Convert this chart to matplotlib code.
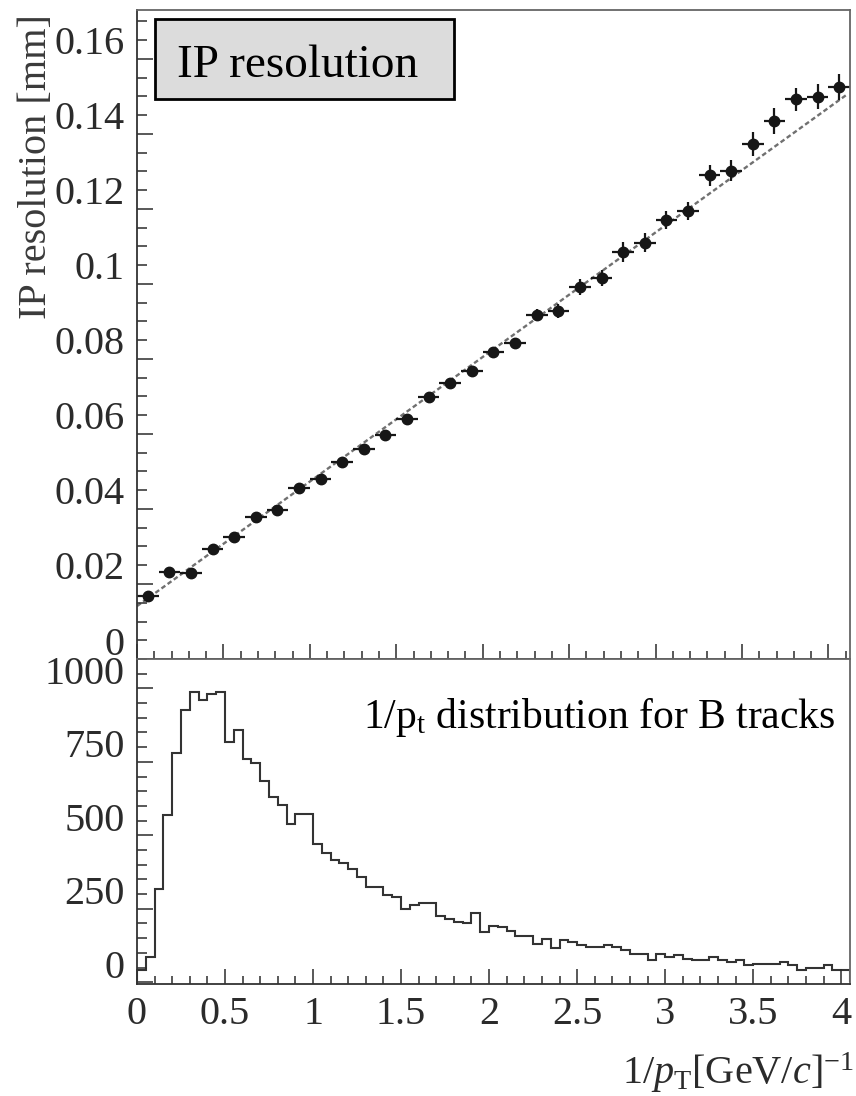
import matplotlib
matplotlib.use("Agg")
import matplotlib.pyplot as plt
import matplotlib.transforms as mtransforms
from matplotlib.patches import Rectangle
from matplotlib.ticker import MultipleLocator, FuncFormatter
import numpy as np

# IP resolution vs 1/pT, 33 bins of 0.125 (GeV/c)^-1
ip_bin_width = 0.125
ip_res = [0.0169, 0.0232, 0.0228, 0.0292, 0.0325, 0.0379, 0.0398, 0.0456, 0.0479, 0.0525,
          0.0559, 0.0596, 0.0639, 0.0698, 0.0736, 0.0769, 0.0818, 0.0842, 0.0917, 0.0927,
          0.0992, 0.1015, 0.1085, 0.1110, 0.1170, 0.1194, 0.1289, 0.1302, 0.1372, 0.1434,
          0.1492, 0.1499, 0.1525]
ip_err = [0.0006, 0.0006, 0.0007, 0.0007, 0.0008, 0.0008, 0.0009, 0.0009, 0.0010, 0.0010,
          0.0011, 0.0011, 0.0012, 0.0012, 0.0013, 0.0013, 0.0014, 0.0015, 0.0017, 0.0018,
          0.0021, 0.0021, 0.0026, 0.0025, 0.0023, 0.0025, 0.0029, 0.0028, 0.0032, 0.0035,
          0.0031, 0.0033, 0.0035]
fit_intercept = 0.0141
fit_slope = 0.0332

# 1/pt distribution for B tracks, 81 bins of 0.05
hist_bin_width = 0.05
hist_counts = [40, 85, 318, 568, 780, 926, 988, 960, 982, 988,
               816, 858, 761, 746, 684, 630, 602, 537, 574, 574,
               471, 440, 416, 405, 386, 358, 325, 325, 296, 289,
               250, 264, 269, 269, 224, 216, 205, 202, 234, 170,
               192, 187, 174, 156, 156, 131, 148, 117, 144, 136,
               125, 119, 119, 125, 119, 110, 97, 97, 76, 97,
               85, 91, 80, 74, 74, 85, 77, 68, 74, 57,
               63, 63, 63, 68, 60, 40, 49, 49, 57, 40,
               40]

plt.rcParams['font.family'] = ['Liberation Serif', 'DejaVu Serif']
plt.rcParams['mathtext.fontset'] = 'custom'
plt.rcParams['mathtext.rm'] = 'Liberation Serif'
plt.rcParams['mathtext.it'] = 'Liberation Serif:italic'

INK = '#2b2b2b'

fig = plt.figure(figsize=(8.56, 10.96), dpi=100)
ax1 = fig.add_axes([0.160, 0.3987, 0.833, 0.5922])
ax2 = fig.add_axes([0.160, 0.1022, 0.833, 0.2965])

# top panel: resolution points and linear fit
x_centres = (np.arange(len(ip_res)) + 0.5) * ip_bin_width
fit_x = np.array([0.0, 4.105])
ax1.plot(fit_x, fit_intercept + fit_slope * fit_x, color='#707070', lw=1.7,
         dashes=(2.0, 1.2), zorder=1)
ax1.errorbar(x_centres, ip_res, xerr=ip_bin_width / 2, yerr=ip_err, fmt='o',
             color='#161616', ms=7.5, elinewidth=1.6, capsize=0, zorder=2)
ax1.set_xlim(0, 4.125)
ax1.set_ylim(0, 0.173)
ax1.yaxis.set_major_locator(MultipleLocator(0.02))
ax1.yaxis.set_minor_locator(MultipleLocator(0.005))
ax1.yaxis.set_major_formatter(FuncFormatter(lambda v, p: '%g' % round(v, 3)))
ax1.xaxis.set_major_locator(MultipleLocator(0.5))
ax1.xaxis.set_minor_locator(MultipleLocator(0.1))
ax1.tick_params(axis='x', which='both', labelbottom=False)

ax1.add_patch(Rectangle((0.0252, 0.8629), 0.4194, 0.1233, transform=ax1.transAxes,
                        facecolor='#dcdcdc', edgecolor='black', lw=2, zorder=3))
ax1.text(0.0561, 0.8968, 'IP resolution', transform=ax1.transAxes, fontsize=34,
         va='baseline', ha='left', color='black', zorder=4)
fig.text(36.5 / 856, 1 - 167 / 1096, 'IP resolution [mm]', rotation=90,
         ha='center', va='center', fontsize=29, color='#3a3a3a')

# bottom panel: 1/pt histogram
edges = np.arange(len(hist_counts) + 1) * hist_bin_width
ax2.stairs(hist_counts, edges, baseline=0, color='#333333', lw=1.5)
ax2.set_xlim(0, 4.05)
ax2.set_ylim(-6, 1100)
ax2.yaxis.set_major_locator(MultipleLocator(250))
ax2.yaxis.set_minor_locator(MultipleLocator(50))
ax2.xaxis.set_major_locator(MultipleLocator(0.5))
ax2.xaxis.set_minor_locator(MultipleLocator(0.1))
ax2.xaxis.set_major_formatter(FuncFormatter(lambda v, p: '%g' % v))
ax2.text(0.979, 0.787, r'1/p$_{\mathrm{t}}$ distribution for B tracks',
         transform=ax2.transAxes, fontsize=30, ha='right', va='baseline', color='black')
ax2.set_xlabel(r'$1/p_{\mathrm{T}}[\mathrm{GeV}/c]^{-1}$', fontsize=29, color=INK, loc='right')
ax2.xaxis.set_label_coords(1.006, -0.205)

for ax in (ax1, ax2):
    ax.tick_params(which='both', direction='in', color=INK, width=1.1,
                   labelsize=29, labelcolor=INK, top=False, right=False, pad=9)
    ax.tick_params(axis='y', which='major', length=11.5)
    ax.tick_params(axis='y', which='minor', length=7)
    ax.tick_params(axis='x', which='major', length=11)
    ax.tick_params(axis='x', which='minor', length=6)
    for side in ('left', 'bottom'):
        ax.spines[side].set_color('#333333')
        ax.spines[side].set_linewidth(1.3)
    for side in ('top', 'right'):
        ax.spines[side].set_color('#666666')
        ax.spines[side].set_linewidth(1.3)

# the y labels in the original sit a little above their ticks
offset = mtransforms.ScaledTranslation(0, 18.5 / 100, fig.dpi_scale_trans)
for ax in (ax1, ax2):
    for lab in ax.get_yticklabels():
        lab.set_transform(lab.get_transform() + offset)

fig.savefig('out.png', dpi=100)
